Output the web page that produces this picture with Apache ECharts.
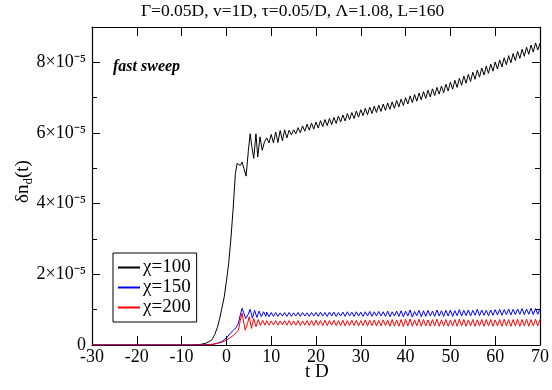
<!DOCTYPE html>
<html><head><meta charset="utf-8">
<script src="https://cdn.jsdelivr.net/npm/echarts@6/dist/echarts.min.js"></script>
<style>html,body{margin:0;padding:0;background:#fff}#c{width:552px;height:390px}</style>
</head><body><div id="c"></div>
<script>
// values in units of 1e-5
const seriesNames = ['χ=100', 'χ=150', 'χ=200'];
const xTicks = [-30, -20, -10, 0, 10, 20, 30, 40, 50, 60, 70];
const yTicks = [0, 2, 4, 6, 8];

const blackEarlyT = [-30, -8, -6, -4.6, -3.8, -3.2, -2.6, -2.0, -1.5, -1.0, -0.5, 0, 0.5, 1.0, 1.5, 2.0, 2.4, 2.8, 3.1, 3.5, 3.9, 4.4, 4.9, 5.3, 5.7, 6.1, 6.6, 7.0, 7.5, 8.0, 8.5];
const blackEarlyY = [0, 0, 0.01, 0.05, 0.1, 0.15, 0.3, 0.5, 0.75, 1.05, 1.35, 1.8, 2.3, 3.0, 3.85, 4.85, 5.14, 5.12, 5.08, 5.18, 5.0, 4.78, 5.5, 5.98, 5.6, 5.28, 5.98, 5.32, 5.89, 5.51, 5.75];

const blueEarlyT = [-30, -6, -3, -2, -1, 0, 1, 1.6, 2.2, 2.7, 3.1, 3.5, 3.9, 4.3, 4.8, 5.3, 5.8, 6.3, 6.8, 7.3, 7.8, 8.3, 8.8];
const blueEarlyY = [0, 0, 0.02, 0.05, 0.1, 0.2, 0.35, 0.42, 0.5, 0.62, 0.85, 1.04, 0.9, 0.75, 0.85, 1.01, 0.76, 0.98, 0.78, 0.96, 0.8, 0.94, 0.81];

const redEarlyT = [-30, -5, -3, -2, -1, 0, 1, 1.6, 2.2, 2.7, 3.1, 3.5, 3.85, 4.2, 4.7, 5.1, 5.6, 6.1, 6.6, 7.1, 7.6, 8.1, 8.6];
const redEarlyY = [0, 0, 0.02, 0.05, 0.08, 0.14, 0.22, 0.28, 0.35, 0.42, 0.7, 0.9, 0.65, 0.42, 0.6, 0.80, 0.47, 0.75, 0.52, 0.72, 0.55, 0.70, 0.56];

const bandT = [9,9.5,10,10.5,11,11.5,12,12.5,13,13.5,14,14.5,15,15.5,16,16.5,17,17.5,18,18.5,19,19.5,20,20.5,21,21.5,22,22.5,23,23.5,24,24.5,25,25.5,26,26.5,27,27.5,28,28.5,29,29.5,30,30.5,31,31.5,32,32.5,33,33.5,34,34.5,35,35.5,36,36.5,37,37.5,38,38.5,39,39.5,40,40.5,41,41.5,42,42.5,43,43.5,44,44.5,45,45.5,46,46.5,47,47.5,48,48.5,49,49.5,50,50.5,51,51.5,52,52.5,53,53.5,54,54.5,55,55.5,56,56.5,57,57.5,58,58.5,59,59.5,60,60.5,61,61.5,62,62.5,63,63.5,64,64.5,65,65.5,66,66.5,67,67.5,68,68.5,69,69.5,70];

const blackBandY = [5.86,5.72,5.96,5.72,6.03,5.73,6.07,5.78,6.09,5.86,
6.08,5.95,6.09,5.98,6.15,6.01,6.20,6.05,6.25,6.08,
6.28,6.11,6.31,6.14,6.35,6.18,6.38,6.21,6.41,6.24,
6.44,6.27,6.48,6.31,6.51,6.34,6.55,6.38,6.58,6.41,
6.62,6.45,6.66,6.49,6.70,6.52,6.73,6.55,6.76,6.58,
6.79,6.61,6.82,6.64,6.85,6.67,6.88,6.70,6.92,6.74,
6.96,6.78,7.00,6.82,7.05,6.86,7.09,6.90,7.13,6.94,
7.17,6.98,7.21,7.02,7.25,7.06,7.29,7.10,7.33,7.14,
7.38,7.19,7.44,7.24,7.49,7.29,7.55,7.35,7.61,7.41,
7.66,7.46,7.72,7.52,7.78,7.58,7.84,7.64,7.89,7.69,
7.95,7.75,8.01,7.81,8.07,7.87,8.13,7.93,8.19,7.99,
8.25,8.05,8.31,8.11,8.37,8.17,8.43,8.23,8.49,8.29,
8.55,8.35,8.54];

const blueBandY = [0.93,0.80,0.92,0.81,0.92,0.81,0.91,0.82,0.92,0.81,
0.92,0.81,0.91,0.82,0.92,0.81,0.92,0.82,0.91,0.81,
0.92,0.82,0.92,0.81,0.93,0.82,0.92,0.81,0.93,0.82,
0.93,0.81,0.92,0.82,0.93,0.81,0.94,0.82,0.93,0.81,
0.94,0.82,0.93,0.81,0.94,0.82,0.95,0.81,0.94,0.82,
0.95,0.82,0.94,0.81,0.96,0.80,0.94,0.82,0.96,0.81,
0.97,0.80,0.96,0.82,0.99,0.79,0.95,0.83,0.98,0.80,
0.97,0.81,0.98,0.82,0.96,0.81,0.99,0.82,0.97,0.81,
0.98,0.82,0.99,0.81,0.97,0.83,1.00,0.82,0.98,0.83,
0.99,0.82,0.98,0.84,1.01,0.83,0.99,0.84,0.98,0.83,
0.99,0.84,1.00,0.85,1.01,0.84,1.00,0.86,1.02,0.85,
1.01,0.86,1.02,0.87,1.03,0.86,1.02,0.87,1.04,0.86,
1.03,0.87,1.03];

const redBandY = [0.69,0.56,0.68,0.57,0.69,0.56,0.68,0.57,0.69,0.56,
0.69,0.56,0.68,0.56,0.69,0.55,0.68,0.56,0.69,0.55,
0.69,0.55,0.70,0.56,0.69,0.55,0.70,0.55,0.69,0.56,
0.70,0.55,0.69,0.55,0.70,0.54,0.69,0.55,0.70,0.55,
0.70,0.54,0.69,0.55,0.71,0.54,0.70,0.55,0.71,0.54,
0.70,0.54,0.71,0.55,0.70,0.53,0.72,0.54,0.71,0.53,
0.72,0.52,0.73,0.54,0.74,0.53,0.71,0.54,0.73,0.53,
0.72,0.54,0.71,0.53,0.72,0.54,0.73,0.53,0.71,0.54,
0.72,0.53,0.71,0.54,0.72,0.53,0.73,0.54,0.72,0.53,
0.71,0.54,0.72,0.53,0.71,0.54,0.72,0.53,0.72,0.54,
0.72,0.53,0.71,0.54,0.72,0.53,0.73,0.54,0.72,0.53,
0.72,0.54,0.73,0.53,0.72,0.54,0.73,0.53,0.72,0.54,
0.73,0.54,0.72];

function pairs(t, y) { return t.map((v, i) => [v, y[i]]); }
const blackData = pairs(blackEarlyT, blackEarlyY).concat(pairs(bandT, blackBandY));
const blueData = pairs(blueEarlyT, blueEarlyY).concat(pairs(bandT, blueBandY));
const redData = pairs(redEarlyT, redEarlyY).concat(pairs(bandT, redBandY));

const FONT = '"Liberation Serif", "Times New Roman", serif';
const chart = echarts.init(document.getElementById('c'));

function yAx(pos, showLabel) {
  return {
    type: 'value', position: pos, min: 0, max: 9, interval: 2,
    axisLine: {show: true, onZero: false, lineStyle: {color: '#000', width: 1.2}},
    axisTick: {show: true, inside: true, length: 8, lineStyle: {color: '#000', width: 1}},
    minorTick: {show: true, splitNumber: 2, length: 5, lineStyle: {color: '#000', width: 1}},
    splitLine: {show: false},
    axisLabel: showLabel ? {
      margin: 6, color: '#000', fontFamily: FONT, fontSize: 18, showMaxLabel: false,
      formatter: function (v) { return v === 0 ? '0' : (yTicks.indexOf(v) >= 0 ? v + '×10⁻⁵' : ''); }
    } : {show: false}
  };
}
function xAx(pos, showLabel) {
  return {
    type: 'value', position: pos, min: -30, max: 70, interval: 10,
    axisLine: {show: true, onZero: false, lineStyle: {color: '#000', width: 1.2}},
    axisTick: {show: true, inside: true, length: 9, lineStyle: {color: '#000', width: 1}},
    splitLine: {show: false},
    axisLabel: showLabel ? {margin: 3, color: '#000', fontFamily: FONT, fontSize: 18,
      formatter: function (v) { return xTicks.indexOf(v) >= 0 ? String(v) : ''; }} : {show: false}
  };
}

chart.setOption({
  animation: false,
  backgroundColor: '#fff',
  grid: {left: 92, right: 8, top: 27, bottom: 45},
  xAxis: [xAx('bottom', true), xAx('top', false)],
  yAxis: [yAx('left', true), yAx('right', false)],
  legend: {
    orient: 'vertical', left: 113, top: 253, itemWidth: 22, itemHeight: 2, itemGap: 1,
    padding: [5, 6, 5, 5], borderColor: '#000', borderWidth: 1, icon: 'rect',
    textStyle: {fontFamily: FONT, fontSize: 19, color: '#000', padding: [0, 0, 0, -2]},
    data: seriesNames
  },
  graphic: [
    {type: 'text', left: 141, top: 2, style: {text: 'Γ=0.05D, v=1D, τ=0.05/D, Λ=1.08, L=160', font: '17.5px "Liberation Serif"', fill: '#000'}},
    {type: 'text', left: 113, top: 59, style: {text: 'fast sweep', font: 'italic bold 16px "Liberation Serif"', fill: '#000'}},
    {type: 'text', left: 305, top: 363, style: {text: 't D', font: '19px "Liberation Serif"', fill: '#000'}},
    {type: 'text', x: 12, y: 203, rotation: Math.PI / 2,
      style: {text: 'δn{dd|d}(t)', font: '19px "Liberation Serif"', fill: '#000', rich: {dd: {fontFamily: 'Liberation Serif', fontSize: 13, fill: '#000', padding: [10, 0, 0, 0]}}}}
  ],
  series: [
    {name: seriesNames[0], type: 'line', data: blackData, symbol: 'none', lineStyle: {color: '#000', width: 1}, itemStyle: {color: '#000'}},
    {name: seriesNames[1], type: 'line', data: blueData, symbol: 'none', lineStyle: {color: '#0000ff', width: 1}, itemStyle: {color: '#0000ff'}},
    {name: seriesNames[2], type: 'line', data: redData, symbol: 'none', lineStyle: {color: '#ff0000', width: 1}, itemStyle: {color: '#ff0000'}}
  ]
});
</script></body></html>
